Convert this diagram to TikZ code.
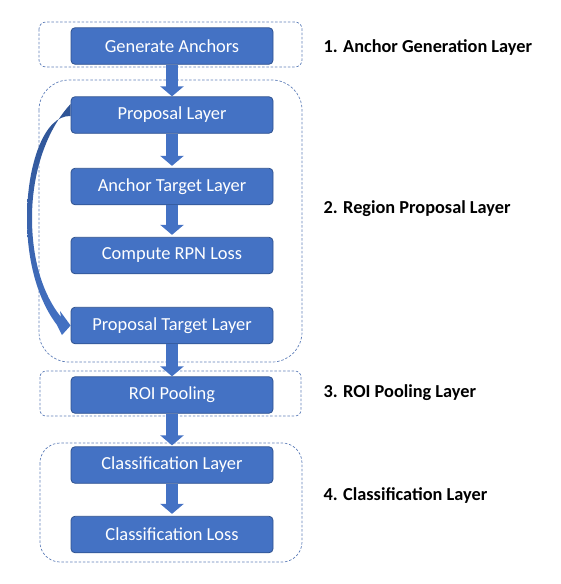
\documentclass[tikz,border=0pt]{standalone}
\usepackage{fontspec}
\setmainfont{Carlito}
\usetikzlibrary{arrows.meta}
\definecolor{boxBlue}{HTML}{4472C4}
\definecolor{edgeBlue}{HTML}{2F528F}
\definecolor{darkBlue}{HTML}{2E5394}
\definecolor{frameBlue}{HTML}{5F7FB9}
\begin{document}
\begin{tikzpicture}[x=1pt,y=-1pt,
    layerBox/.style = {draw = edgeBlue, line width = 0.8pt, fill = boxBlue, rounded corners = 4pt,
        minimum width = 202pt, minimum height = 36.5pt, text = white, font = \fontsize{18.4}{21}\selectfont},
    groupFrame/.style = {draw = frameBlue, line width = 0.7pt, dash pattern = on 2.5pt off 1.8pt},
    layerLabel/.style = {anchor = west, font = \fontsize{18.3}{21}\selectfont\bfseries},
    blockArrow/.style = {draw = boxBlue, line width = 12pt, -{Triangle[width = 23pt, length = 10pt]}}]
    \useasboundingbox (0,0) rectangle (561,584);

    % frames round the four stages
    \draw[groupFrame, rounded corners = 7pt] (39,22) rectangle (302,67);
    \draw[groupFrame, rounded corners = 30pt] (39,80) rectangle (302,362);
    \draw[groupFrame, rounded corners = 6pt] (40,371) rectangle (301,416);
    \draw[groupFrame, rounded corners = 20pt] (40,443) rectangle (302,562);

    \node[layerBox](generateAnchors) at (172,46) {Generate Anchors};
    \node[layerBox](proposalLayer) at (172,115) {Proposal Layer};
    \node[layerBox](anchorTarget) at (172,186.5) {Anchor Target Layer};
    \node[layerBox](rpnLoss) at (172,255.5) {Compute RPN Loss};
    \node[layerBox](proposalTarget) at (172,325.5) {Proposal Target Layer};
    \node[layerBox](roiPooling) at (172,395) {ROI Pooling};
    \node[layerBox](classLayer) at (172,465) {Classification Layer};
    \node[layerBox](classLoss) at (172,534.5) {Classification Loss};

    \node[layerLabel](labelAnchor) at (320,48) {1. Anchor Generation Layer};
    \node[layerLabel](labelRegion) at (320,209) {2. Region Proposal Layer};
    \node[layerLabel](labelPooling) at (320,393) {3. ROI Pooling Layer};
    \node[layerLabel](labelClass) at (320,495) {4. Classification Layer};

    \draw[blockArrow] (generateAnchors.south) -- (proposalLayer.north);
    \draw[blockArrow, shorten > = 2pt] (proposalLayer.south) -- (anchorTarget.north);
    \draw[blockArrow, shorten > = 2pt] (anchorTarget.south) -- (rpnLoss.north);
    \draw[blockArrow] (proposalTarget.south) -- (roiPooling.north);
    \draw[blockArrow, shorten > = 1pt] (roiPooling.south) -- (classLayer.north);
    \draw[blockArrow, shorten > = 2pt] (classLayer.south) -- (classLoss.north);

    % tapered curved arrow from proposal layer down to proposal target layer
    \shade[top color = darkBlue, bottom color = boxBlue]
        ([yshift = -1pt]proposalLayer.west) .. controls (44,115) and (27,165) .. (27,218)
        .. controls (27,262) and (38,300) .. (57,325) -- (62,335) -- (proposalTarget.west)
        -- (60,311) -- (61,317) .. controls (44,296) and (32,262) .. (32,218)
        .. controls (32,170) and (48,128) .. ([yshift = 11pt]proposalLayer.west) -- cycle;
\end{tikzpicture}
\end{document}
